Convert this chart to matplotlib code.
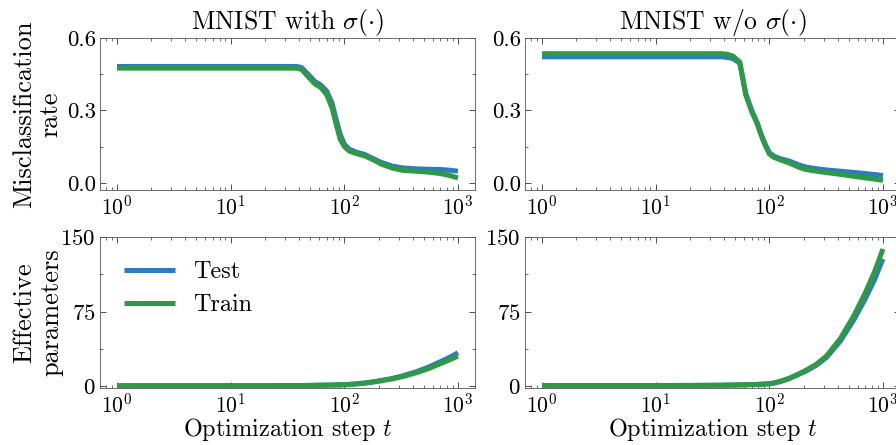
import numpy as np
import matplotlib
matplotlib.use("Agg")
import matplotlib.pyplot as plt
from matplotlib.ticker import AutoMinorLocator, LogLocator, NullFormatter

plt.rcParams.update({
    "font.family": "serif",
    "font.serif": ["cmr10", "DejaVu Serif"],
    "mathtext.fontset": "cm",
    "axes.formatter.use_mathtext": True,
    "axes.unicode_minus": False,
    "axes.linewidth": 0.6,
    "xtick.direction": "in",
    "ytick.direction": "in",
    "xtick.top": True,
    "ytick.right": True,
})

# ---------------- data ----------------
titles = ["MNIST with $\\sigma(\\cdot)$", "MNIST w/o $\\sigma(\\cdot)$"]
ylabels = ["Misclassification\nrate", "Effective\nparameters"]
xlabel = "Optimization step $t$"
series_names = ["Test", "Train"]

# optimisation steps (shared)
steps = [1, 2, 5, 10, 20, 30, 38, 42, 48, 55, 62, 70, 78, 85, 92, 100, 110, 125,
         150, 180, 210, 260, 320, 420, 550, 700, 850, 1000]

# misclassification, with sigma
mis_sig_test = [0.482, 0.482, 0.482, 0.482, 0.482, 0.482, 0.482, 0.478, 0.45, 0.42, 0.405,
                0.38, 0.33, 0.26, 0.2, 0.16, 0.14, 0.128, 0.118, 0.1, 0.085, 0.07, 0.062,
                0.058, 0.056, 0.055, 0.052, 0.048]
mis_sig_train = [0.475, 0.475, 0.475, 0.475, 0.475, 0.475, 0.475, 0.47, 0.44, 0.41, 0.395,
                 0.365, 0.31, 0.24, 0.18, 0.15, 0.132, 0.122, 0.112, 0.095, 0.078, 0.062,
                 0.052, 0.048, 0.044, 0.038, 0.03, 0.02]
# misclassification, without sigma
mis_nos_test = [0.522, 0.522, 0.522, 0.522, 0.522, 0.522, 0.522, 0.52, 0.515, 0.495, 0.37,
                0.3, 0.25, 0.2, 0.16, 0.125, 0.11, 0.1, 0.09, 0.075, 0.065, 0.058, 0.053,
                0.048, 0.043, 0.038, 0.034, 0.03]
mis_nos_train = [0.535, 0.535, 0.535, 0.535, 0.535, 0.535, 0.535, 0.533, 0.525, 0.5, 0.365,
                 0.295, 0.245, 0.195, 0.155, 0.12, 0.105, 0.095, 0.082, 0.065, 0.055, 0.048,
                 0.042, 0.035, 0.027, 0.02, 0.015, 0.01]
# effective parameters, with sigma
eff_sig_test = [0.3, 0.3, 0.3, 0.3, 0.3, 0.4, 0.5, 0.5, 0.6, 0.7, 0.8, 0.9, 1.0, 1.1, 1.2,
                1.3, 1.6, 2.1, 3.0, 4.2, 5.5, 7.5, 10.0, 14.0, 19.0, 24.5, 29.0, 33.5]
eff_sig_train = [0.3, 0.3, 0.3, 0.3, 0.3, 0.4, 0.5, 0.5, 0.6, 0.7, 0.8, 0.9, 1.0, 1.1, 1.2,
                 1.3, 1.6, 2.0, 2.9, 4.0, 5.2, 7.0, 9.3, 13.0, 17.5, 22.5, 26.5, 30.0]
# effective parameters, without sigma
eff_nos_test = [0.5, 0.5, 0.5, 0.5, 0.6, 0.7, 0.8, 0.9, 1.0, 1.1, 1.2, 1.4, 1.6, 1.8, 2.0,
                2.3, 3.0, 4.5, 7.5, 11.5, 15.0, 21.0, 29.0, 45.0, 66.0, 88.0, 108.0, 128.0]
eff_nos_train = [0.5, 0.5, 0.5, 0.5, 0.6, 0.7, 0.8, 0.9, 1.0, 1.1, 1.2, 1.4, 1.6, 1.8, 2.0,
                 2.3, 3.1, 4.7, 7.8, 12.0, 15.8, 22.0, 30.5, 47.5, 70.0, 94.0, 116.0, 138.0]

mis_yticks = [0.0, 0.3, 0.6]
eff_yticks = [0, 75, 150]

colors = {"Test": "#2f7bbf", "Train": "#2e9a48"}

# ---------------- figure ----------------
fig = plt.figure(figsize=(8.96, 4.45), dpi=100)
W, H = 896, 445
def rect(l, t, r, b):
    return [l / W, 1 - b / H, (r - l) / W, (b - t) / H]

ax_tl = fig.add_axes(rect(100, 38, 475, 190))
ax_tr = fig.add_axes(rect(525, 38, 900, 190))
ax_bl = fig.add_axes(rect(100, 237, 475, 388))
ax_br = fig.add_axes(rect(525, 237, 900, 388))

panels = [
    (ax_tl, mis_sig_test, mis_sig_train),
    (ax_tr, mis_nos_test, mis_nos_train),
    (ax_bl, eff_sig_test, eff_sig_train),
    (ax_br, eff_nos_test, eff_nos_train),
]

for ax, test, train in panels:
    for name, vals in zip(series_names, [test, train]):
        v = np.array(vals)
        ax.plot(steps, v, color=colors[name], lw=3.6, label=name, solid_capstyle="butt")
    ax.set_xscale("log")
    ax.xaxis.set_major_locator(LogLocator(base=10, numticks=10))
    ax.xaxis.set_minor_locator(LogLocator(base=10, subs=np.arange(2, 10), numticks=20))
    ax.xaxis.set_minor_formatter(NullFormatter())
    ax.tick_params(which="major", length=4, width=0.6, pad=3, colors="#333333",
                   labelcolor="black")
    ax.tick_params(axis="x", which="major", labelsize=15.5)
    ax.tick_params(axis="y", which="major", labelsize=16.5)
    ax.tick_params(which="minor", length=2, width=0.5, colors="#333333")
    for s in ax.spines.values():
        s.set_color("#555555")

for ax in (ax_tl, ax_tr):
    ax.set_ylim(-0.03, 0.6)
    ax.set_yticks(mis_yticks)
    ax.set_yticklabels([f"{v:.1f}" for v in mis_yticks])
    ax.yaxis.set_minor_locator(AutoMinorLocator(2))
for ax in (ax_bl, ax_br):
    ax.set_ylim(-2, 150)
    ax.set_yticks(eff_yticks)
    ax.yaxis.set_minor_locator(AutoMinorLocator(2))
    ax.set_xlabel(xlabel, fontsize=17.5, labelpad=0)

ax_tl.set_title(titles[0], fontsize=18.5, pad=5)
ax_tr.set_title(titles[1], fontsize=18.5, pad=5)
ax_tl.set_ylabel(ylabels[0], fontsize=19, linespacing=1.15, labelpad=3)
ax_bl.set_ylabel(ylabels[1], fontsize=19, linespacing=1.15, labelpad=-2)

ax_bl.legend(loc="upper left", frameon=False, fontsize=17.5, handlelength=2.1,
             handletextpad=0.75, labelspacing=0.45, borderaxespad=0.6)

fig.savefig("out.png", dpi=100)
